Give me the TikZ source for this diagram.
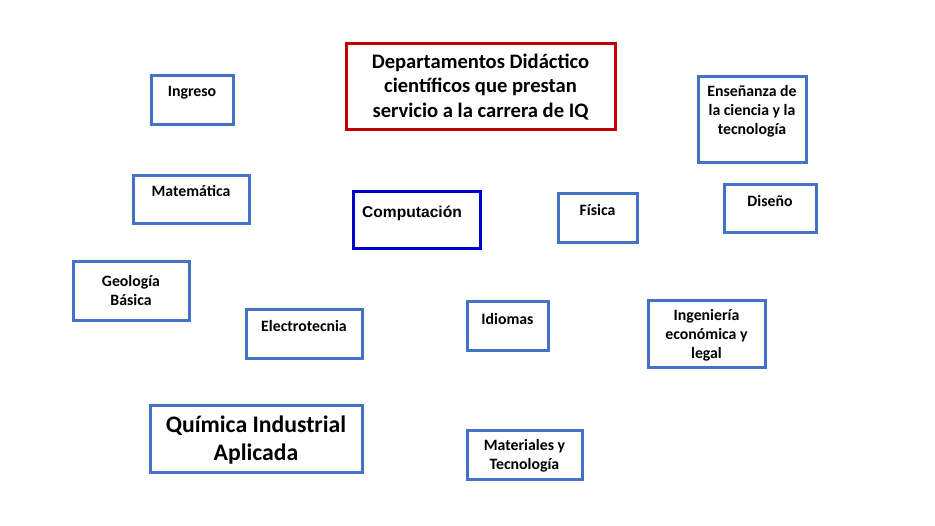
\documentclass[tikz,border=0pt]{standalone}
\usepackage{fontspec}
\setmainfont{Carlito}
\newfontfamily\arialfont{Liberation Sans}
\definecolor{boxblue}{HTML}{4472C4}
\definecolor{titlered}{HTML}{C00000}
\definecolor{deepblue}{HTML}{0000CC}
\begin{document}
\begin{tikzpicture}[x=1pt,y=-1pt,
  bbox/.style={draw=boxblue,line width=3pt,fill=white,inner sep=0pt},
  lbl/.style={font=\fontsize{15.8}{19}\selectfont\bfseries,align=center,inner sep=0pt,text=black},
  biglbl/.style={font=\fontsize{23.7}{28}\selectfont\bfseries,align=center,inner sep=0pt,text=black},
  titlelbl/.style={font=\fontsize{20.6}{24.5}\selectfont\bfseries,align=center,inner sep=0pt,text=black}]
\useasboundingbox (0,0) rectangle (935,526);
% title
\node[draw=titlered,line width=3pt,minimum width=269pt,minimum height=86pt,inner sep=0pt] (title) at (480.5,87) {};
\node[titlelbl] (titletext) at (480.5,87) {Departamentos Didáctico\\científicos que prestan\\servicio a la carrera de IQ};
% boxes
\node[bbox,minimum width=82pt,minimum height=49pt] (ingreso) at (192,100.5) {};
\node[lbl] (ingresot) at (192,92.5) {Ingreso};
\node[bbox,minimum width=116pt,minimum height=48pt] (mate) at (191,200) {};
\node[lbl] (matet) at (191,191.5) {Matemática};
\node[draw=deepblue,line width=3pt,minimum width=127pt,minimum height=57pt,inner sep=0pt] (comp) at (416.5,220.5) {};
\node[font=\arialfont\fontsize{15.6}{18}\selectfont\bfseries,inner sep=0pt] (compt) at (412,213) {Computación};
\node[bbox,minimum width=79pt,minimum height=49pt] (fisica) at (597.5,218.5) {};
\node[lbl] (fisicat) at (597.5,210.5) {Física};
\node[bbox,minimum width=108pt,minimum height=86pt] (ense) at (752,120) {};
\node[lbl] (enset) at (752,111.5) {Enseñanza de\\la ciencia y la\\tecnología};
\node[bbox,minimum width=92pt,minimum height=48pt] (diseno) at (770,209) {};
\node[lbl] (disenot) at (770,201) {Diseño};
\node[bbox,minimum width=116pt,minimum height=59pt] (geo) at (131,291.5) {};
\node[lbl] (geot) at (131,291) {Geología\\Básica};
\node[bbox,minimum width=116pt,minimum height=49pt] (electro) at (304,334.5) {};
\node[lbl] (electrot) at (304,326) {Electrotecnia};
\node[bbox,minimum width=81pt,minimum height=49pt] (idiomas) at (507.5,326.5) {};
\node[lbl] (idiomast) at (507.5,319) {Idiomas};
\node[bbox,minimum width=117pt,minimum height=67pt] (inge) at (706.5,334.5) {};
\node[lbl] (inget) at (706.5,335.5) {Ingeniería\\económica y\\legal};
\node[bbox,minimum width=212pt,minimum height=67pt] (quimica) at (256,439.5) {};
\node[biglbl] (quimicat) at (256,440.5) {Química Industrial\\Aplicada};
\node[bbox,minimum width=115pt,minimum height=49pt] (mat) at (524.5,455.5) {};
\node[lbl] (matt) at (524.5,456) {Materiales y\\Tecnología};
\end{tikzpicture}
\end{document}
